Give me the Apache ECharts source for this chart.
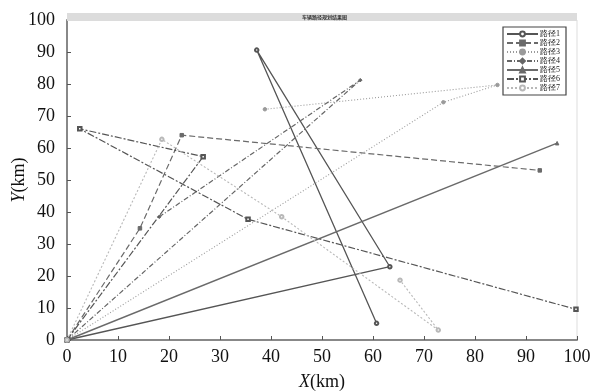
<!DOCTYPE html>
<html><head><meta charset="utf-8">
<script src="https://cdn.jsdelivr.net/npm/echarts@6/dist/echarts.min.js"></script>
<style>html,body{margin:0;padding:0;background:#fff}#c{width:595px;height:392px}</style>
</head><body><div id="c"></div>
<script>
var routeNames = ['路径1','路径2','路径3','路径4','路径5','路径6','路径7'];
var xTicks = [0,10,20,30,40,50,60,70,80,90,100];
var route1X = [0, 63.3, 37.2, 60.7];
var route1Y = [0, 22.9, 90.6, 5.2];
var route2X = [0, 14.3, 22.5, 92.7];
var route2Y = [0, 34.9, 64.0, 53.0];
var route3X = [0, 73.8, 84.4, 38.8];
var route3Y = [0, 74.3, 79.7, 72.1];
var route4X = [0, 57.5, 18.1];
var route4Y = [0, 81.2, 38.5];
var route5X = [0, 96.1];
var route5Y = [0, 61.5];
var route6X = [0, 26.7, 2.5, 35.5, 99.8];
var route6Y = [0, 57.3, 66.0, 37.7, 9.6];
var route7X = [0, 18.6, 42.1, 72.8, 65.3];
var route7Y = [0, 62.7, 38.5, 3.1, 18.7];

var routesX = [route1X, route2X, route3X, route4X, route5X, route6X, route7X];
var routesY = [route1Y, route2Y, route3Y, route4Y, route5Y, route6Y, route7Y];
var colors = ['#555','#6a6a6a','#9a9a9a','#666','#6a6a6a','#555','#b8b8b8'];
var dashes = ['solid',[6,3],[1,2],[5,2,1,2],'solid',[7,2,2,2],[2,2]];
var widths = [1.3,1.2,1.1,1.2,1.4,1.2,1.1];
var symbols = ['emptyCircle','rect','circle','diamond','triangle','emptyRect','emptyCircle'];

function zip(xs, ys){ return xs.map(function(v,i){return [v, ys[i]];}); }

var serif = '"Liberation Serif","DejaVu Serif",serif';
var chart = echarts.init(document.getElementById('c'), null, {renderer:'canvas'});
var series = routeNames.map(function(n,i){
  return {
    name: n, type: 'line', data: zip(routesX[i], routesY[i]),
    symbol: symbols[i], symbolSize: 3.5, showAllSymbol: true,
    lineStyle: {color: colors[i], width: widths[i], type: dashes[i]},
    itemStyle: {color: colors[i], borderColor: colors[i], borderWidth: 1},
    z: 2 + i, animation: false
  };
});
chart.setOption({
  animation: false,
  grid: {left: 67, right: 18, top: 20, bottom: 52, show: true, borderColor: '#ddd', borderWidth: 1,
         containLabel: false, outerBoundsMode: 'none'},
  graphic: [
    {type: 'rect', left: 67, top: 13, shape: {width: 510, height: 8}, style: {fill: '#dcdcdc'}, z: 100},
    {type: 'text', left: 302, top: 14.5, style: {text: '车辆路径规划结果图', font: 'bold 5px "Noto Sans CJK SC"', fill: '#333'}, z: 101}
  ],
  legend: {
    orient: 'vertical', left: 503, top: 27, itemWidth: 31, itemHeight: 6, itemGap: 1,
    padding: [3, 6, 3, 3], borderColor: '#444', borderWidth: 1.2, backgroundColor: '#fff',
    textStyle: {fontFamily: serif, fontSize: 8, lineHeight: 6, height: 6, color: '#222', padding: [0,0,0,-3]}, data: routeNames
  },
  xAxis: {
    type: 'value', min: 0, max: 100, interval: 10,
    name: '{i|X}(km)', nameLocation: 'middle', nameGap: 33, nameMoveOverlap: false,
    nameTextStyle: {fontFamily: serif, fontSize: 18, color: '#111', rich: {i: {fontFamily: serif, fontStyle: 'italic', fontSize: 18, color: '#111'}}},
    axisLine: {show: true, lineStyle: {color: '#888', width: 2}},
    axisTick: {show: true, inside: true, length: 4, lineStyle: {color: '#555'}},
    axisLabel: {fontFamily: serif, fontSize: 18, color: '#111', margin: 8,
      formatter: function(v){ return xTicks.indexOf(v) >= 0 ? String(v) : ''; }},
    splitLine: {show: false}
  },
  yAxis: {
    type: 'value', min: 0, max: 100, interval: 10,
    name: '{i|Y}(km)', nameLocation: 'middle', nameGap: 39, nameRotate: 90, nameMoveOverlap: false,
    nameTextStyle: {fontFamily: serif, fontSize: 18, color: '#111', rich: {i: {fontFamily: serif, fontStyle: 'italic', fontSize: 18, color: '#111'}}},
    axisLine: {show: true, lineStyle: {color: '#888', width: 2}},
    axisTick: {show: true, inside: true, length: 4, lineStyle: {color: '#555'}},
    axisLabel: {fontFamily: serif, fontSize: 18, color: '#111', margin: 12},
    splitLine: {show: false}
  },
  series: series
});
</script></body></html>
